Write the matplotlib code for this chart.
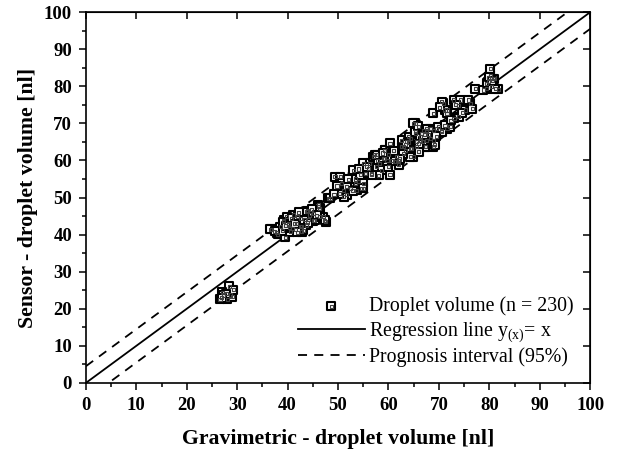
import numpy as np
import matplotlib
matplotlib.use("Agg")
import matplotlib.pyplot as plt
from matplotlib.legend_handler import HandlerTuple

plt.rcParams["font.family"] = ["Liberation Serif", "DejaVu Serif"]
plt.rcParams["mathtext.fontset"] = "custom"
plt.rcParams["mathtext.rm"] = "Liberation Serif"
plt.rcParams["mathtext.it"] = "Liberation Serif:italic"

# -----------------------------
# Data
# -----------------------------
grav = [
    28.4, 27.0, 28.6, 26.6, 28.0, 29.0, 27.2, 29.2, 27.8, 26.9,
    36.8, 38.0, 39.5, 39.2, 40.1, 41.1, 42.5, 43.9, 46.1, 46.4,
    47.1, 47.6, 45.1, 43.7, 42.8, 41.5, 40.5, 42.5, 44.4, 39.8,
    36.6, 37.8, 38.5, 39.1, 40.1, 40.8, 41.0, 41.8, 42.8, 43.1,
    43.8, 44.1, 45.1, 45.4, 46.1, 46.4, 47.4, 48.1, 38.9, 40.3,
    41.4, 42.0, 43.3, 44.8, 39.6, 41.9, 44.0, 45.8, 37.4, 42.2,
    48.4, 49.4, 50.4, 50.7, 51.1, 51.7, 52.4, 53.0, 53.4, 54.0,
    54.7, 55.0, 55.4, 56.3, 56.7, 57.0, 57.3, 57.7, 58.3, 58.7,
    59.3, 60.0, 60.0, 55.0, 51.1, 53.7, 55.0, 53.4, 51.7, 50.2,
    49.8, 52.0, 52.9, 54.4, 56.0, 57.9, 58.1, 59.7, 49.2, 54.1,
    55.7, 56.7, 59.0, 59.3, 60.3, 60.7, 61.6, 62.0, 62.6, 63.3,
    63.6, 64.3, 64.6, 64.9, 64.3, 65.6, 66.3, 67.3, 67.6, 68.9,
    68.9, 65.3, 65.3, 66.6, 67.6, 68.3, 69.6, 70.6, 71.6, 72.2,
    57.7, 59.3, 60.3, 62.6, 63.0, 64.0, 64.3, 64.9, 65.3, 65.6,
    66.3, 66.9, 67.3, 67.6, 68.3, 68.9, 69.2, 69.9, 70.6, 71.2,
    61.0, 62.9, 63.9, 65.9, 66.8, 67.9, 61.9, 63.4, 66.0, 67.1,
    68.9, 70.9, 71.6, 72.9, 73.9, 74.2, 75.2, 76.2, 73.9, 70.6,
    71.2, 71.6, 75.8, 76.6, 73.0, 61.2, 62.2, 58.9, 66.0, 69.5,
    72.4, 74.6, 70.2, 73.3,
    77.2, 79.5, 79.8, 80.2, 80.2, 80.8, 81.8, 78.8, 79.5, 80.5,
    81.2, 81.0, 79.9, 80.6,
]
sensor = [
    26.1, 24.5, 23.7, 22.6, 22.6, 23.2, 23.7, 25.1, 24.0, 23.0,
    41.4, 40.1, 39.3, 43.9, 43.0, 45.3, 44.4, 46.4, 48.0, 47.1,
    44.8, 43.5, 43.7, 42.6, 40.8, 41.4, 40.8, 42.1, 45.3, 44.8,
    41.4, 40.5, 42.1, 43.5, 42.6, 44.4, 41.7, 43.0, 42.1, 41.2,
    46.2, 44.1, 45.7, 43.9, 47.5, 44.8, 43.9, 49.8, 41.0, 41.8,
    42.9, 45.0, 44.0, 46.8, 42.4, 40.6, 43.2, 45.2, 40.9, 46.0,
    49.8, 55.6, 55.6, 53.8, 52.0, 50.7, 52.5, 57.4, 53.8, 54.3,
    52.5, 59.2, 56.5, 59.2, 56.5, 61.0, 61.5, 58.3, 59.2, 57.4,
    60.6, 58.3, 61.5, 53.8, 50.2, 52.0, 52.5, 55.0, 53.0, 51.0,
    53.1, 54.9, 51.8, 56.2, 57.9, 60.1, 56.0, 59.9, 50.9, 57.7,
    58.3, 56.1, 60.6, 62.8, 56.1, 60.1, 61.0, 58.8, 63.7, 62.8,
    65.0, 66.0, 63.3, 61.0, 61.0, 63.7, 65.5, 63.7, 65.5, 65.5,
    63.7, 70.0, 67.3, 67.3, 68.2, 68.6, 68.6, 68.2, 68.6, 69.1,
    61.5, 62.8, 64.6, 65.5, 63.7, 66.4, 63.3, 70.0, 67.7, 65.0,
    66.4, 68.2, 63.7, 68.6, 66.0, 68.2, 64.2, 69.1, 67.7, 69.5,
    62.6, 61.8, 64.9, 69.2, 65.2, 67.0, 60.0, 64.4, 62.4, 66.9,
    72.7, 75.4, 73.6, 76.3, 74.9, 76.3, 73.6, 75.4, 71.8, 75.8,
    73.6, 72.7, 76.3, 74.0, 71.4, 59.8, 60.4, 62.0, 64.5, 66.5,
    70.8, 72.9, 74.4, 75.0,
    79.4, 79.4, 81.2, 83.0, 84.8, 82.1, 79.2, 79.0, 80.8, 79.9,
    79.4, 82.0, 82.5, 81.5,
]

fit_x = [0, 100]
band = 4.5  # half width of the 95% prognosis interval

# -----------------------------
# Plot
# -----------------------------
fig = plt.figure(figsize=(6.18, 4.51), dpi=100)
ax = fig.add_axes([0.139, 0.151, 0.816, 0.822])

outer = ax.scatter(grav, sensor, marker="s", s=32, facecolor="white",
                   edgecolor="black", linewidth=1.5, zorder=3)
inner = ax.scatter(grav, sensor, marker="s", s=5, facecolor="none",
                   edgecolor="0.25", linewidth=0.8, zorder=4)

fx = np.array(fit_x)
reg, = ax.plot(fx, fx, color="black", lw=1.3, zorder=2)
dash, = ax.plot(fx, fx + band, color="black", lw=1.3, ls=(0, (5, 4)), zorder=2)
ax.plot(fx, fx - band, color="black", lw=1.3, ls=(0, (5, 4)), zorder=2)

ax.set_xlim(0, 100)
ax.set_ylim(0, 100)
ax.set_xticks(np.arange(0, 101, 10))
ax.set_yticks(np.arange(0, 101, 10))
ax.set_xticks(np.arange(5, 100, 10), minor=True)
ax.set_yticks(np.arange(5, 100, 10), minor=True)
ax.tick_params(which="major", direction="out", length=5, width=1.1,
               labelsize=13.5, pad=5)
ax.tick_params(which="minor", direction="out", length=3, width=1.1)
for lab in ax.get_xticklabels() + ax.get_yticklabels():
    lab.set_fontweight("bold")
for s in ax.spines.values():
    s.set_linewidth(1.2)

# inward major ticks on top and right
top = ax.secondary_xaxis("top")
top.set_xticks(np.arange(0, 101, 10))
top.tick_params(direction="in", length=5, width=1.1, labeltop=False)
right = ax.secondary_yaxis("right")
right.set_yticks(np.arange(0, 101, 10))
right.tick_params(direction="in", length=5, width=1.1, labelright=False)

ax.set_xlabel("Gravimetric - droplet volume [nl]", fontsize=15.7,
              fontweight="bold", labelpad=11)
ax.set_ylabel("Sensor - droplet volume [nl]", fontsize=15.7,
              fontweight="bold", labelpad=4)

ax.legend([(outer, inner), reg, dash],
          ["Droplet volume (n = 230)",
           r"Regression line y$_{\mathregular{(x)}}$= x",
           "Prognosis interval (95%)"],
          handler_map={tuple: HandlerTuple(ndivide=1, pad=0)},
          loc="lower right", frameon=False, fontsize=14.3,
          handlelength=3.4, handletextpad=0.2, labelspacing=0.18,
          borderaxespad=0.3, bbox_to_anchor=(0.995, 0.005))

fig.savefig("out.png", dpi=100)
